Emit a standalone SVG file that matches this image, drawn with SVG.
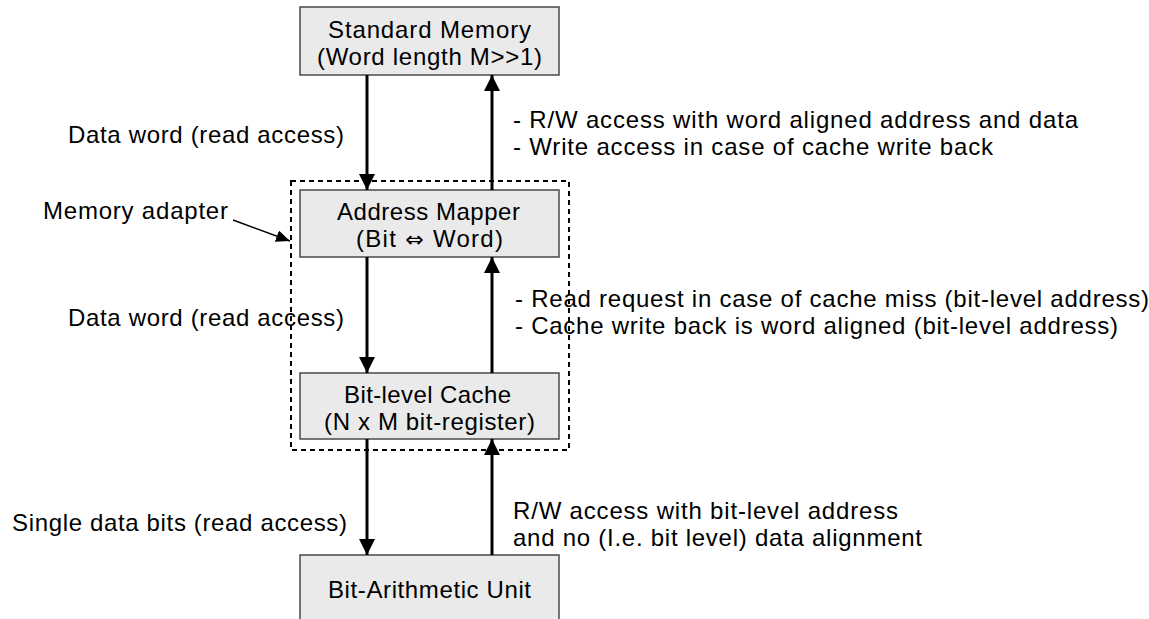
<svg xmlns="http://www.w3.org/2000/svg" width="1149" height="619" viewBox="0 0 1149 619">
  <style>
    .box { fill: #eaeaea; stroke: #4a4a4a; stroke-width: 1.5; }
    .lbl { font-family: "Liberation Sans", Arial, sans-serif; font-size: 24px; fill: #000000; }
    .mid { text-anchor: middle; }
    .sym { font-family: "DejaVu Sans", sans-serif; font-size: 22px; }
    .conn { stroke: #000000; stroke-width: 3; fill: none; }
    .thin { stroke: #000000; stroke-width: 1.5; fill: none; }
    .dash { stroke: #000000; stroke-width: 2; fill: none; stroke-dasharray: 5 4; }
  </style>
  <defs>
    <marker id="head" viewBox="0 0 16 16" refX="16" refY="8" markerWidth="16" markerHeight="16" markerUnits="userSpaceOnUse" orient="auto">
      <path d="M0,0 L16,8 L0,16 Z" fill="#000000"/>
    </marker>
    <marker id="small" viewBox="0 0 14 12" refX="14" refY="6" markerWidth="14" markerHeight="12" markerUnits="userSpaceOnUse" orient="auto">
      <path d="M0,0 L14,6 L0,12 Z" fill="#000000"/>
    </marker>
  </defs>

  <!-- memory adapter boundary -->
  <g id="memory-adapter">
    <rect class="dash" x="291" y="181" width="278" height="269"/>
    <text class="lbl" x="43" y="219" textLength="185" lengthAdjust="spacing">Memory adapter</text>
    <line class="thin" x1="233" y1="220" x2="290" y2="241" marker-end="url(#small)"/>
  </g>

  <g id="standard-memory">
    <rect class="box" x="300" y="7" width="259" height="68"/>
    <text class="lbl mid" x="429.5" y="38" textLength="203" lengthAdjust="spacing">Standard Memory</text>
    <text class="lbl mid" x="429.5" y="65" textLength="225" lengthAdjust="spacing">(Word length M&gt;&gt;1)</text>
  </g>

  <g id="address-mapper">
    <rect class="box" x="300" y="190" width="259" height="67"/>
    <text class="lbl mid" x="428.5" y="220" textLength="183" lengthAdjust="spacing">Address Mapper</text>
    <text class="lbl mid" x="429.5" y="247" textLength="147" lengthAdjust="spacing">(Bit <tspan class="sym">⇔</tspan> Word)</text>
  </g>

  <g id="bit-level-cache">
    <rect class="box" x="300" y="373" width="259" height="66"/>
    <text class="lbl mid" x="427.5" y="403" textLength="167" lengthAdjust="spacing">Bit-level Cache</text>
    <text class="lbl mid" x="429.5" y="430" textLength="211" lengthAdjust="spacing">(N x M bit-register)</text>
  </g>

  <g id="bit-arithmetic-unit">
    <rect class="box" x="300" y="555" width="259" height="80"/>
    <text class="lbl mid" x="429.5" y="598" textLength="203" lengthAdjust="spacing">Bit-Arithmetic Unit</text>
  </g>

  <g id="connectors">
    <line class="conn" x1="367" y1="75" x2="367" y2="190" marker-end="url(#head)"/>
    <line class="conn" x1="492" y1="190" x2="492" y2="75" marker-end="url(#head)"/>
    <line class="conn" x1="367" y1="257" x2="367" y2="373" marker-end="url(#head)"/>
    <line class="conn" x1="492" y1="373" x2="492" y2="257" marker-end="url(#head)"/>
    <line class="conn" x1="367" y1="439" x2="367" y2="555" marker-end="url(#head)"/>
    <line class="conn" x1="492" y1="555" x2="492" y2="439" marker-end="url(#head)"/>
  </g>

  <g id="connector-labels">
    <text class="lbl" x="68" y="143" textLength="276" lengthAdjust="spacing">Data word (read access)</text>
    <text class="lbl" x="513" y="128" textLength="565" lengthAdjust="spacing">- R/W access with word aligned address and data</text>
    <text class="lbl" x="513" y="155" textLength="480" lengthAdjust="spacing">- Write access in case of cache write back</text>
    <text class="lbl" x="68" y="326" textLength="276" lengthAdjust="spacing">Data word (read access)</text>
    <text class="lbl" x="515" y="307" textLength="634" lengthAdjust="spacing">- Read request in case of cache miss (bit-level address)</text>
    <text class="lbl" x="515" y="334" textLength="603" lengthAdjust="spacing">- Cache write back is word aligned (bit-level address)</text>
    <text class="lbl" x="12" y="531" textLength="335" lengthAdjust="spacing">Single data bits (read access)</text>
    <text class="lbl" x="513" y="519" textLength="385" lengthAdjust="spacing">R/W access with bit-level address</text>
    <text class="lbl" x="513" y="546" textLength="409" lengthAdjust="spacing">and no (I.e. bit level) data alignment</text>
  </g>
</svg>
